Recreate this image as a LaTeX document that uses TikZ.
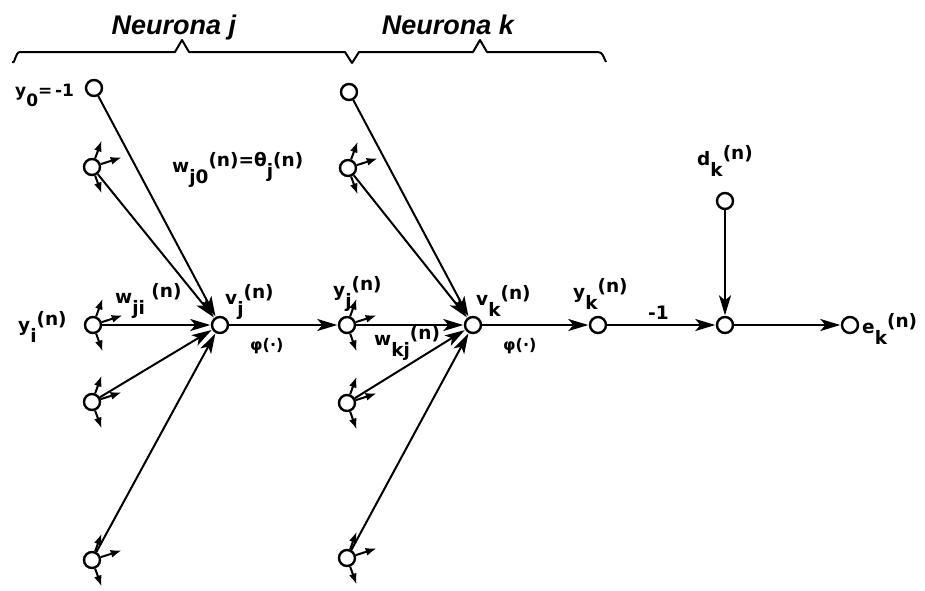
\documentclass[tikz,border=0pt]{standalone}
\usepackage{fontspec}
\setmainfont{Liberation Sans}
\newfontfamily\lblfont{DejaVu Sans}
\usetikzlibrary{arrows.meta}
\newcommand\lowsub[1]{\raisebox{-0.6em}{#1}}
\newcommand\hisup[1]{\raisebox{0.3em}{#1}}
\begin{document}
\begin{tikzpicture}[x=1pt,y=-1pt,
  nd/.style={circle,draw,line width=2.4pt,minimum size=16pt,inner sep=0pt,fill=white},
  conn/.style={line width=2pt,-{Stealth[length=20pt,width=12pt,inset=5pt]},shorten >=0.5pt},
  stub/.style={line width=2pt,-{Latex[length=11pt,width=8pt]}},
  lbl/.style={anchor=base west,inner sep=0pt,font=\lblfont\bfseries\fontsize{18.5}{18.5}\selectfont},
  phil/.style={anchor=base west,inner sep=0pt,font=\lblfont\bfseries\fontsize{16}{16}\selectfont},
  title/.style={anchor=base,inner sep=0pt,font=\bfseries\itshape\fontsize{27}{27}\selectfont}]
\useasboundingbox (0,0) rectangle (925,590);
% brace
\draw[line width=2pt,line join=round] (12,62) to[out=-60,in=180] (20,52) -- (175,52) -- (182,40) -- (189,52) -- (345,52) -- (352,63) -- (359,52) -- (473,52) -- (480,40) -- (487,52) -- (598,52) to[out=0,in=120] (606,62);
\node[title] (tj) at (174,34) {Neurona j};
\node[title] (tk) at (448,34) {Neurona k};
% nodes
\node[nd] (y0) at (94,88) {};
\node[nd] (n2) at (92,167) {};
\node[nd] (yi) at (93,325) {};
\node[nd] (n4) at (92,402) {};
\node[nd] (n5) at (92,560) {};
\node[nd] (vj) at (220,325) {};
\node[nd] (r1) at (349,92) {};
\node[nd] (r2) at (348,168) {};
\node[nd] (yj) at (347,325) {};
\node[nd] (r4) at (347,403) {};
\node[nd] (r5) at (347,558) {};
\node[nd] (vk) at (473,325) {};
\node[nd] (yk) at (598,325) {};
\node[nd] (sm) at (725,325) {};
\node[nd] (dk) at (725,201) {};
\node[nd] (ek) at (850,325) {};
% connectors
\foreach \s in {y0,n2,yi,n4,n5} \draw[conn] (\s) -- (vj);
\foreach \s in {r1,r2,yj,r4,r5} \draw[conn] (\s) -- (vk);
\draw[conn] (vj) -- (yj);
\draw[conn] (vk) -- (yk);
\draw[conn] (yk) -- (sm);
\draw[conn] (dk) -- (sm);
\draw[conn] (sm) -- (ek);
% stubs
\foreach \s in {n2,yi,n4,n5,r2,yj,r4,r5}{
  \draw[stub] (\s.70) -- ++(-70:19);
  \draw[stub] (\s.18) -- ++(-18:22);
  \draw[stub] (\s.-70) -- ++(70:19);
}
% labels
\node[lbl,font=\lblfont\bfseries\fontsize{17}{17}\selectfont] (ly0) at (15,96) {y\lowsub{0}=\,-1};
\node[lbl] (lw0) at (172,172) {w\lowsub{j0}\hisup{(n)=θ\lowsub{j}(n)}};
\node[lbl] (lwji) at (115,303) {w\lowsub{ji} \hisup{(n)}};
\node[lbl] (lvj) at (225,304) {v\lowsub{j}\hisup{(n)}};
\node[phil] (lpj) at (250,350) {φ(·)};
\node[lbl] (lyi) at (18,331) {y\lowsub{i}\hisup{(n)}};
\node[lbl] (lyj) at (333,296) {y\lowsub{j}\hisup{(n)}};
\node[lbl] (lwk) at (374,345) {w\lowsub{kj}\hisup{(n)}};
\node[lbl] (lvk) at (476,305) {v\lowsub{k}\hisup{(n)}};
\node[phil] (lpk) at (503,350) {φ(·)};
\node[lbl] (lyk) at (573,298) {y\lowsub{k}\hisup{(n)}};
\node[lbl] (lm1) at (648,319) {-1};
\node[lbl] (ldk) at (697,165) {d\lowsub{k}\hisup{(n)}};
\node[lbl] (lek) at (862,333) {e\lowsub{k}\hisup{(n)}};
\end{tikzpicture}
\end{document}
